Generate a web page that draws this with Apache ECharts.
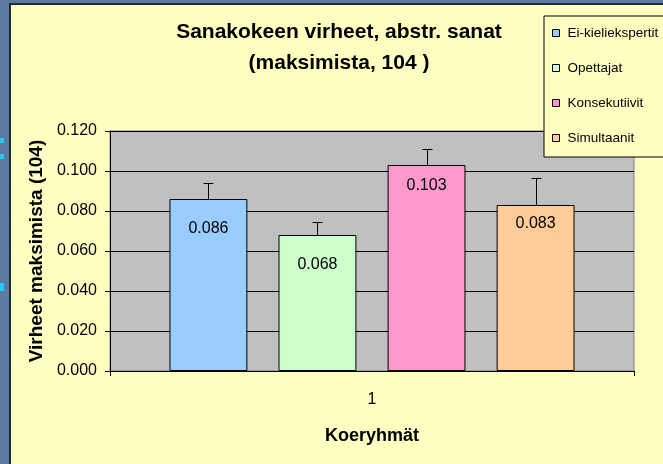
<!DOCTYPE html>
<html><head><meta charset="utf-8">
<script src="https://cdn.jsdelivr.net/npm/echarts@6/dist/echarts.min.js"></script>
<style>html,body{margin:0;padding:0;}#c{width:663px;height:464px;}</style>
</head><body><div id="c"></div>
<script>
const categories = ['1'];
const seriesNames = ['Ei-kieliekspertit', 'Opettajat', 'Konsekutiivit', 'Simultaanit'];
const values = [0.086, 0.068, 0.103, 0.083];
const errors = [0.008, 0.0063, 0.008, 0.0134];
const colors = ['#99CCFF', '#CCFFCC', '#FF99CC', '#FFCC99'];
const yTicks = { min: 0, max: 0.12, interval: 0.02 };
const labelDistances = [22, 22, 13, 11];

const BAR_CAT_GAP = 0.227, BAR_GAP = 0.4;
const n = seriesNames.length;
const FONT = 'Liberation Sans';

const chart = echarts.init(document.getElementById('c'));
const series = [];
seriesNames.forEach((name, i) => {
  series.push({
    name, type: 'bar', data: [values[i]],
    barGap: '40%', barCategoryGap: '22.7%',
    itemStyle: { color: colors[i], borderColor: '#000', borderWidth: 1 },
    label: { show: true, position: 'insideTop', distance: labelDistances[i], formatter: p => p.value.toFixed(3),
      color: '#000', fontSize: 16, fontFamily: FONT },
    z: 2
  });
});
seriesNames.forEach((name, i) => {
  series.push({
    type: 'custom', name: name + '_err', data: [[0, values[i], errors[i]]],
    z: 3, silent: true,
    renderItem: (params, api) => {
      const W = api.size([1, 0])[0];
      const groupW = W * (1 - BAR_CAT_GAP);
      const bw = groupW / (n + (n - 1) * BAR_GAP);
      const c = api.coord([api.value(0), 0]);
      const x = c[0] - groupW / 2 + i * bw * (1 + BAR_GAP) + bw / 2;
      const y0 = api.coord([0, api.value(1)])[1];
      const y1 = Math.round(api.coord([0, api.value(1) + api.value(2)])[1]) + 0.5;
      const xr = Math.round(x) + 0.5;
      const st = { stroke: '#000', lineWidth: 1 };
      return { type: 'group', children: [
        { type: 'line', shape: { x1: xr, y1: y0, x2: xr, y2: y1 }, style: st },
        { type: 'line', shape: { x1: xr - 5, y1: y1, x2: xr + 5, y2: y1 }, style: st }
      ]};
    }
  });
});

chart.setOption({
  backgroundColor: '#5B7BA3',
  animation: false,
  graphic: [
    { type: 'rect', z: -10, shape: { x: 10, y: 4, width: 700, height: 500 },
      style: { fill: '#FFFFC2', stroke: '#1E2B3A', lineWidth: 2 } },
    { type: 'rect', z: -9, shape: { x: 0, y: 138, width: 4, height: 5 }, style: { fill: '#22CCF0' } },
    { type: 'rect', z: -9, shape: { x: 0, y: 154, width: 4, height: 5 }, style: { fill: '#22CCF0' } },
    { type: 'rect', z: -9, shape: { x: 0, y: 283, width: 4, height: 8 }, style: { fill: '#22CCF0' } }
  ],
  title: {
    text: 'Sanakokeen virheet, abstr. sanat\n(maksimista, 104 )',
    left: 334, top: 12, textAlign: 'center',
    textStyle: { fontFamily: FONT, fontWeight: 'bold', fontSize: 21, lineHeight: 31, color: '#000' }
  },
  legend: {
    data: seriesNames, orient: 'vertical', left: 544, top: 16,
    padding: [10, 40, 12, 8], itemGap: 21, itemWidth: 7, itemHeight: 7, icon: 'rect',
    backgroundColor: '#FFFFC2', borderColor: '#000', borderWidth: 1,
    itemStyle: { borderColor: '#000', borderWidth: 1 },
    textStyle: { fontFamily: FONT, fontSize: 13.5, color: '#000', padding: [0, 0, 0, 3] }
  },
  grid: { left: 110, right: 29, top: 131, bottom: 93, show: true, backgroundColor: '#C0C0C0', borderColor: '#808080', borderWidth: 1 },
  xAxis: {
    type: 'category', data: categories,
    axisLine: { lineStyle: { color: '#000' } },
    axisTick: { show: true, length: 5, lineStyle: { color: '#000' } },
    axisLabel: { fontFamily: FONT, fontSize: 16, color: '#000', margin: 21 },
    name: 'Koeryhmät', nameLocation: 'middle', nameGap: 56,
    nameTextStyle: { fontFamily: FONT, fontWeight: 'bold', fontSize: 18, color: '#000' }
  },
  yAxis: {
    type: 'value', min: yTicks.min, max: yTicks.max, interval: yTicks.interval,
    axisLine: { show: true, lineStyle: { color: '#000' } },
    axisTick: { show: true, length: 5, lineStyle: { color: '#000' } },
    splitLine: { show: true, lineStyle: { color: '#000', width: 1 } },
    axisLabel: { fontFamily: FONT, fontSize: 16, color: '#000', margin: 13, formatter: v => v.toFixed(3) },
    name: 'Virheet maksimista (104)', nameLocation: 'middle', nameGap: 54, nameRotate: 90,
    nameTextStyle: { fontFamily: FONT, fontWeight: 'bold', fontSize: 19, color: '#000' }
  },
  series
});
</script></body></html>
